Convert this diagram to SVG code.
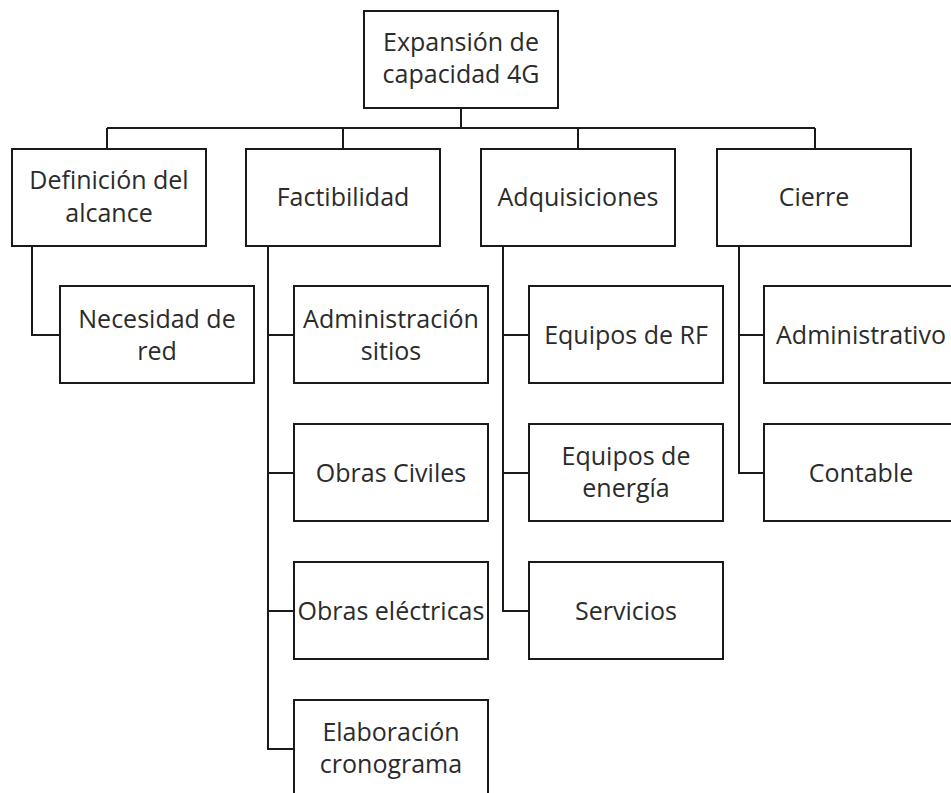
<svg xmlns="http://www.w3.org/2000/svg" width="951" height="793" viewBox="0 0 951 793">
<style>
rect.box{fill:#fff;stroke:#1a1a1a;stroke-width:2}
.c{fill:none;stroke:#1a1a1a;stroke-width:2}
text{font-family:"Open Sans","Noto Sans","Liberation Sans",sans-serif;font-size:25px;fill:#2b2b2b;text-anchor:middle}
</style>
<rect width="951" height="793" fill="#fff"/>
<g id="connectors">
<path class="c" d="M461 108V128M107 128H815M107 128V149M343 128V149M578 128V149M815 128V149"/>
<path class="c" d="M32 246V335H60"/>
<path class="c" d="M268 246V749H294M268 335H294M268 473H294M268 611H294"/>
<path class="c" d="M503 246V611H529M503 335H529M503 473H529"/>
<path class="c" d="M739 246V473H764M739 335H764"/>
</g>
<g id="root"><rect class="box" x="364" y="11" width="194" height="97"/><text x="461" y="51">Expansión de</text><text x="461" y="83">capacidad 4G</text></g>
<g id="definicion"><rect class="box" x="12" y="149" width="194" height="97"/><text x="109" y="189">Definición del</text><text x="109" y="222">alcance</text></g>
<g id="factibilidad"><rect class="box" x="246" y="149" width="194" height="97"/><text x="343" y="206">Factibilidad</text></g>
<g id="adquisiciones"><rect class="box" x="481" y="149" width="194" height="97"/><text x="578" y="206">Adquisiciones</text></g>
<g id="cierre"><rect class="box" x="717" y="149" width="194" height="97"/><text x="814" y="206">Cierre</text></g>
<g id="necesidad"><rect class="box" x="60" y="286" width="194" height="97"/><text x="157" y="328">Necesidad de</text><text x="157" y="360">red</text></g>
<g id="admin-sitios"><rect class="box" x="294" y="286" width="194" height="97"/><text x="391" y="328">Administración</text><text x="391" y="360">sitios</text></g>
<g id="obras-civiles"><rect class="box" x="294" y="424" width="194" height="97"/><text x="391" y="482">Obras Civiles</text></g>
<g id="obras-electricas"><rect class="box" x="294" y="562" width="194" height="97"/><text x="391" y="620">Obras eléctricas</text></g>
<g id="elaboracion"><rect class="box" x="294" y="700" width="194" height="97"/><text x="391" y="741">Elaboración</text><text x="391" y="773">cronograma</text></g>
<g id="equipos-rf"><rect class="box" x="529" y="286" width="194" height="97"/><text x="626" y="344">Equipos de RF</text></g>
<g id="equipos-energia"><rect class="box" x="529" y="424" width="194" height="97"/><text x="626" y="465">Equipos de</text><text x="626" y="497">energía</text></g>
<g id="servicios"><rect class="box" x="529" y="562" width="194" height="97"/><text x="626" y="620">Servicios</text></g>
<g id="administrativo"><rect class="box" x="764" y="286" width="194" height="97"/><text x="861" y="344">Administrativo</text></g>
<g id="contable"><rect class="box" x="764" y="424" width="194" height="97"/><text x="861" y="482">Contable</text></g>
</svg>
